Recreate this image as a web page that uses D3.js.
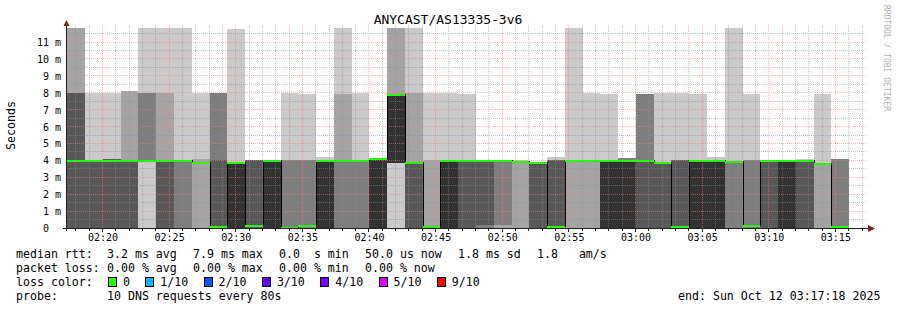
<!DOCTYPE html>
<html>
<head>
<meta charset="utf-8">
<title>ANYCAST/AS13335-3v6</title>
<script src="https://cdnjs.cloudflare.com/ajax/libs/d3/7.8.5/d3.min.js"></script>
<style>
  body { margin: 0; background: #fff; }
  text { font-family: "DejaVu Sans Mono", monospace; fill: #000; }
</style>
</head>
<body>
<div id="chart"></div>
<script>
// Time window of the graph and the RRD step
var startTime = new Date(2025, 9, 12, 2, 17, 18);
var endTime = new Date(2025, 9, 12, 3, 17, 18);
var firstStep = new Date(2025, 9, 12, 2, 17, 22);
var stepSeconds = 80;

// 10 sorted DNS reply times per step (ms)
var pings = [
  [0,0,0,0,4,4,8,8,11.85,11.85],
  [0,0,0,0,4,4,4,4,4,8],
  [0,0,0,0,4.1,4.1,4.1,4.1,4.1,8],
  [0,0,0,0,4,4,4,4,8.1,8.1],
  [0,4,4,4,4,4,4,8,8,11.85],
  [0,0,0,0,4,4,4,4,8,11.85],
  [0,0,0,4,4,4,4,4,4,11.85],
  [0,0,3.85,3.85,3.85,3.85,3.85,3.85,4.1,8],
  [0,0,0,0,0,0,4,8,8,8],
  [0,0,0,0,0,3.9,3.9,3.9,3.9,11.75],
  [0,0,0,0,0,0,4,4,4,4],
  [0,0,0,0,0,4,4,4,4,4],
  [0,0,0,0,0,0,0,4,4,8],
  [0,0,0,0,0,0,0,4,4,7.9],
  [0,0,0,0,0,4,4,4,4,4.2],
  [0,0,0,4,4,4,4,4,7.9,11.85],
  [0,0,0,4,4,4,4,4,4,8],
  [0,0,0,0,0,4,4,4,4,4.15],
  [0,3.85,3.85,3.85,3.85,7.9,7.9,7.9,11.85,11.85],
  [0,0,0,0,3.9,3.9,3.9,3.9,8,11.85],
  [0,0,0,0,0,0,0,0,4,8],
  [0,0,0,0,0,4,4,4,4,8],
  [0,0,0,0,4,4,4,4,4,7.9],
  [0,0,0,0.15,4,4,4,4,4,4],
  [0,0,0.15,4,4,4,4,4,4,4],
  [0,0,3.9,3.9,3.9,3.9,3.9,3.9,3.9,4],
  [0,0,0,0,3.85,3.85,3.85,3.85,3.85,3.9],
  [0,0,0,0,0,0,4,4,4,4.2],
  [0,0,4,4,4,4,4,4,4,11.85],
  [0,0,3.9,3.9,3.9,3.9,3.9,3.9,3.9,8],
  [0,0,0,0,0,4,4,4,4,7.9],
  [0,0,0,0,0,4,4,4.15,4.15,4.15],
  [0,0,0,0,4,4,4,7.9,7.9,7.9],
  [0,0,0,0,3.9,3.9,3.9,3.9,3.9,8],
  [0,0,0,0,0,0,4,4,4,8],
  [0,0,0,0,0,4,4,4,4,7.9],
  [0,0,0,0,0,4,4,4,4,4.2],
  [0,0,0,3.9,3.9,3.9,3.9,3.9,3.9,11.85],
  [0,0,0,0,0,0,0,4,4,7.9],
  [0,0,0,0,4,4,4,4,4,4],
  [0,0,0,0,0,4,4,4,4,4],
  [0,0,0,0,4,4,4,4,4,4.1],
  [0,0,3.7,3.7,3.7,3.7,3.7,3.7,3.75,7.9],
  [0,0,0,0,0,0,0,4.1,4.1,4.1]
];
var medians = [4,4,4,4,4,4,4,3.9,0.1,3.9,0.15,4,0.05,0.15,4,4,4,4.1,7.9,3.9,0.1,4,
               4,4,4,3.95,3.85,0.1,4,4,4,4,4,3.9,0.1,4,4,3.95,0.15,4,4,4,3.8,0.1];

var yTicks = [0,1,2,3,4,5,6,7,8,9,10,11];
var smokeColors = ["#cacaca", "#a4a4a4", "#7e7e7e", "#585858", "#323232"];
var lossLabels = ["0", "1/10", "2/10", "3/10", "4/10", "5/10", "9/10"];
var lossColors = ["#26ff00", "#00b8ff", "#0059ff", "#5e00ff", "#7e00ff", "#dd00ff", "#ff0000"];
var rttStats = ["3.2 ms avg", "7.9 ms max", "0.0  s min", "50.0 us now", "1.8 ms sd", "1.8   am/s"];
var lossStats = ["0.00 % avg", "0.00 % max", "0.00 % min", "0.00 % now"];

var width = 897, height = 310;
var statX = [107, 193, 279, 365, 458, 537];

var svg = d3.select("#chart").append("svg")
    .attr("width", width)
    .attr("height", height)
    .style("display", "block")
    .style("background", "#fff");

var x = d3.scaleTime().domain([startTime, endTime]).range([66.5, 866]);
var y = d3.scaleLinear().domain([0, 12]).range([228, 25.2]);

var columns = pings.map(function(p, i) {
    var t0 = new Date(+firstStep + i * stepSeconds * 1000);
    var t1 = new Date(+t0 + stepSeconds * 1000);
    return {x0: Math.round(x(t0)), x1: Math.round(x(t1)), p: p, median: medians[i]};
});

// Smoke: layer k spans ping k .. ping 9-k, darker towards the middle
var smoke = svg.append("g").attr("shape-rendering", "crispEdges");
columns.forEach(function(c) {
    smokeColors.forEach(function(col, k) {
        var lo = c.p[k], hi = c.p[9 - k];
        if (hi <= lo) return;
        var yt = Math.round(y(hi)), yb = Math.round(y(lo));
        smoke.append("rect")
            .attr("x", c.x0)
            .attr("width", c.x1 - c.x0)
            .attr("y", yt)
            .attr("height", yb - yt)
            .attr("fill", col);
    });
});

// Grid drawn over the smoke, half transparent like rrdtool
var grid = svg.append("g").attr("shape-rendering", "crispEdges");
var minorX = x.ticks(d3.timeMinute.every(1));
var majorX = x.ticks(d3.timeMinute.every(5));
var isMajor = function(t) { return t.getMinutes() % 5 === 0; };

grid.selectAll(".vgrid")
    .data(minorX)
    .enter().append("line")
    .attr("x1", function(d) { return Math.floor(x(d)) + 0.5; })
    .attr("x2", function(d) { return Math.floor(x(d)) + 0.5; })
    .attr("y1", 25)
    .attr("y2", 228)
    .attr("stroke", function(d) { return isMajor(d) ? "rgba(245,128,128,0.55)" : "rgba(140,140,140,0.5)"; })
    .attr("stroke-dasharray", "1,1");

grid.selectAll(".hgrid")
    .data(d3.range(0.5, 12, 0.5))
    .enter().append("line")
    .attr("x1", 67)
    .attr("x2", 867)
    .attr("y1", function(d) { return Math.floor(y(d)) + 0.5; })
    .attr("y2", function(d) { return Math.floor(y(d)) + 0.5; })
    .attr("stroke", function(d) { return d % 1 === 0 ? "rgba(245,128,128,0.55)" : "rgba(140,140,140,0.5)"; })
    .attr("stroke-dasharray", "1,1");

// Median: thin black step line, loss coloured bar on top
var medPts = columns.map(function(c) { return [c.x0 + 0.5, y(c.median)]; });
var last = columns[columns.length - 1];
medPts.push([last.x1, y(last.median)]);
svg.append("path")
    .attr("d", d3.line().curve(d3.curveStepAfter)(medPts))
    .attr("fill", "none")
    .attr("stroke", "#000")
    .attr("stroke-width", 1)
    .attr("shape-rendering", "crispEdges");

svg.append("g").attr("shape-rendering", "crispEdges")
    .selectAll("rect")
    .data(columns)
    .enter().append("rect")
    .attr("x", function(d) { return d.x0; })
    .attr("width", function(d) { return d.x1 - d.x0; })
    .attr("y", function(d) { return Math.round(y(d.median) - 0.5); })
    .attr("height", 2)
    .attr("fill", lossColors[0]);   // no loss in any step

// Axes
var axisColor = "#1f1f1f", arrowColor = "#801f1f";
svg.append("line")
    .attr("x1", 63).attr("x2", 869).attr("y1", 228.5).attr("y2", 228.5)
    .attr("stroke", axisColor);
svg.append("line")
    .attr("x1", 66.5).attr("x2", 66.5).attr("y1", 231).attr("y2", 24)
    .attr("stroke", axisColor);
svg.append("path")
    .attr("d", "M868,225L875,228.5L868,232Z")
    .attr("fill", arrowColor);
svg.append("path")
    .attr("d", "M63.5,26L66.5,20L69.5,26Z")
    .attr("fill", arrowColor);

// Small tick marks
svg.append("g").attr("shape-rendering", "crispEdges")
    .selectAll("line")
    .data(minorX)
    .enter().append("line")
    .attr("x1", function(d) { return Math.floor(x(d)) + 0.5; })
    .attr("x2", function(d) { return Math.floor(x(d)) + 0.5; })
    .attr("y1", 229)
    .attr("y2", function(d) { return isMajor(d) ? 232 : 231; })
    .attr("stroke", axisColor);

// X labels
var xAxis = svg.append("g")
    .attr("transform", "translate(0,228)")
    .call(d3.axisBottom(x)
        .tickValues(majorX)
        .tickFormat(d3.timeFormat("%H:%M"))
        .tickSize(0)
        .tickPadding(6));
xAxis.select(".domain").remove();
xAxis.selectAll("text")
    .style("font-family", "'DejaVu Sans Mono', monospace")
    .style("font-size", "10px")
    .attr("fill", "#000");

// Y labels
var yAxis = svg.append("g")
    .attr("transform", "translate(67,0)")
    .call(d3.axisLeft(y)
        .tickValues(yTicks)
        .tickFormat(function(d) { return d === 0 ? "0" : d + " m"; })
        .tickSize(0)
        .tickPadding(6));
yAxis.select(".domain").remove();
yAxis.selectAll("text")
    .style("font-family", "'DejaVu Sans Mono', monospace")
    .style("font-size", "10px")
    .attr("fill", "#000")
    .attr("dy", "0.34em")
    .attr("dx", function(d) { return d === 0 ? -12 : 0; });

// Title and axis name
svg.append("text")
    .attr("x", 448)
    .attr("y", 24)
    .attr("text-anchor", "middle")
    .style("font-size", "13px")
    .text("ANYCAST/AS13335-3v6");

svg.append("text")
    .attr("transform", "translate(15,125.5) rotate(-90)")
    .attr("text-anchor", "middle")
    .style("font-size", "11.6px")
    .text("Seconds");

svg.append("text")
    .attr("transform", "translate(884,5) rotate(90)")
    .style("font-size", "8px")
    .attr("fill", "#b0b0b0")
    .style("fill", "#b0b0b0")
    .text("RRDTOOL / TOBI OETIKER");

// Legend
var legend = svg.append("g").style("font-size", "11.6px");
function legendText(tx, ty, s) {
    legend.append("text")
        .attr("x", tx)
        .attr("y", ty)
        .attr("xml:space", "preserve")
        .style("white-space", "pre")
        .text(s);
}

legendText(16, 258, "median rtt:");
rttStats.forEach(function(s, i) { legendText(statX[i], 258, s); });

legendText(16, 272, "packet loss:");
lossStats.forEach(function(s, i) { legendText(statX[i], 272, s); });

legendText(16, 286, "loss color:");
var cursor = 108;
lossLabels.forEach(function(lbl, i) {
    legend.append("rect")
        .attr("x", cursor + 0.5)
        .attr("y", 277.5)
        .attr("width", 8)
        .attr("height", 9)
        .attr("fill", lossColors[i])
        .attr("stroke", "#000")
        .attr("shape-rendering", "crispEdges");
    legendText(cursor + 15, 286, lbl);
    cursor += 15 + lbl.length * 7 + 15.3;
});

legendText(16, 300, "probe:");
legendText(107, 300, "10 DNS requests every 80s");
legendText(678, 300, "end: Sun Oct 12 03:17:18 2025");
</script>
</body>
</html>
